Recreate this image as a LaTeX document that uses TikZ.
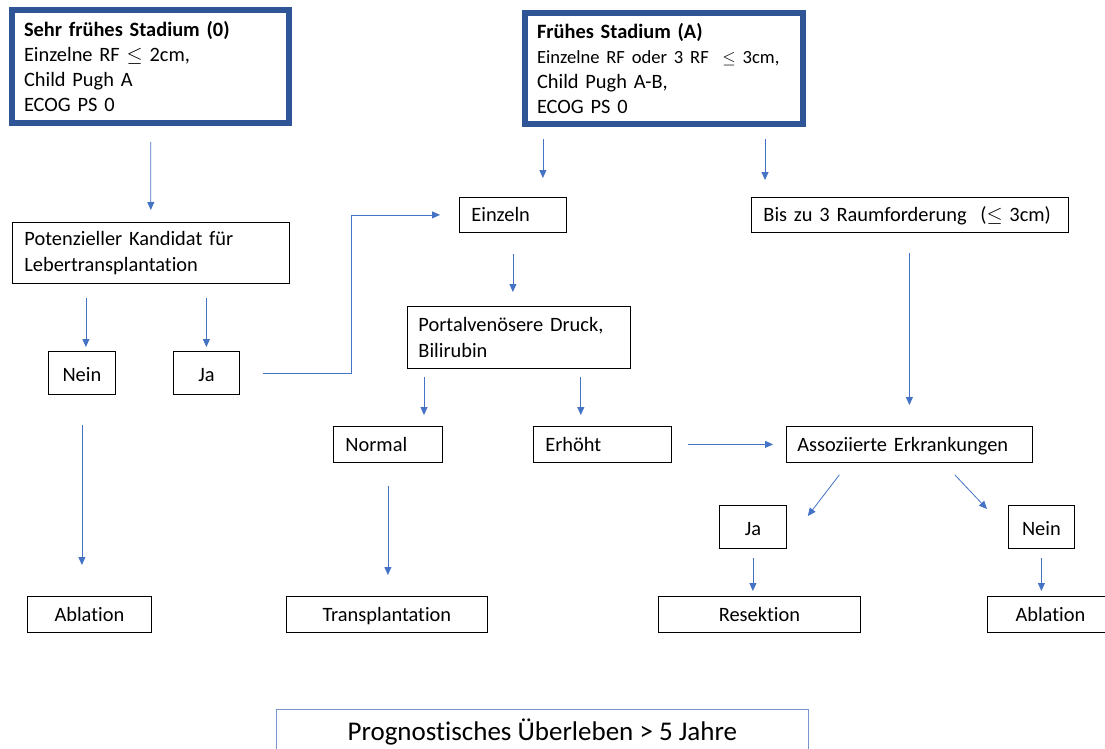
\documentclass[tikz,border=0pt]{standalone}
\usepackage{fontspec}
\setmainfont[Ligatures=NoCommon]{Carlito}
\usetikzlibrary{arrows.meta}
\definecolor{stageblue}{RGB}{47,85,151}
\definecolor{arrowblue}{RGB}{68,114,196}
\definecolor{survblue}{RGB}{120,150,205}

\begin{document}
\begin{tikzpicture}[
    x=1pt, y=-1pt,
    stage/.style={rectangle, draw=stageblue, line width=6pt, anchor=north west, align=left, inner xsep=12pt, font=\fontsize{20.4}{25.3}\selectfont},
    box/.style={rectangle, draw, line width=0.8pt, anchor=north west, align=center, inner sep=0pt, font=\fontsize{20.4}{25.8}\selectfont},
    lbox/.style={box, align=left, inner xsep=12pt},
    line/.style={text height=16pt, text depth=2pt},
    tall/.style={text height=19pt, text depth=1pt},
    arrow/.style={-{Triangle[length=8pt,width=7pt]}, draw=arrowblue, line width=0.8pt}
]
\useasboundingbox (0,0) rectangle (1105,749);

\node[stage, minimum width=277pt, minimum height=113pt, text width=253pt] (s0) at (9,7)
    {\textbf{Sehr frühes Stadium (0)}\\Einzelne RF $\leq$ 2cm,\\Child Pugh A\\ECOG PS 0};
\node[stage, minimum width=278pt, minimum height=111pt, text width=254pt] (sa) at (522,10)
    {\textbf{Frühes Stadium (A)}\\{\fontsize{18.6}{25}\selectfont Einzelne RF oder 3 RF\ \ $\leq$ 3cm,}\\Child Pugh A-B,\\ECOG PS 0};

\node[lbox, minimum width=277pt, minimum height=61pt, text width=253pt] (pot) at (12,222) {Potenzieller Kandidat für\\Lebertransplantation};
\node[box, tall, minimum width=67pt, minimum height=43pt] (nein) at (48,351) {Nein};
\node[box, tall, minimum width=66pt, minimum height=43pt] (ja) at (173,351) {Ja};
\node[box, line, minimum width=124pt, minimum height=36pt] (abl1) at (27,596) {Ablation};

\node[lbox, line, minimum width=107pt, minimum height=35pt, text width=83pt] (ein) at (459,197) {Einzeln};
\node[lbox, line, minimum width=317pt, minimum height=35pt, text width=293pt] (bis) at (751,197) {Bis zu 3 Raumforderung\ \ ($\leq$ 3cm)};
\node[lbox, minimum width=223pt, minimum height=62pt, text width=201pt, inner xsep=11pt] (por) at (407,306) {Portalvenösere Druck,\\Bilirubin};
\node[lbox, line, minimum width=109pt, minimum height=36pt, text width=85pt] (nor) at (333,426) {Normal};
\node[lbox, line, minimum width=138pt, minimum height=36pt, text width=114pt] (erh) at (533,426) {Erhöht};
\node[lbox, line, minimum width=246pt, minimum height=36pt, text width=224pt, inner xsep=11pt] (ass) at (786,426) {Assoziierte Erkrankungen};
\node[box, tall, minimum width=67pt, minimum height=43pt] (ja2) at (719,505) {Ja};
\node[box, tall, minimum width=66pt, minimum height=43pt] (nein2) at (1008,505) {Nein};
\node[box, line, minimum width=201pt, minimum height=36pt] (tra) at (286,596) {Transplantation};
\node[box, line, minimum width=202pt, minimum height=36pt] (res) at (658,596) {Resektion};
\node[box, line, minimum width=126pt, minimum height=36pt] (abl2) at (987,596) {Ablation};

\node[box, draw=survblue, line width=0.7pt, minimum width=532pt, minimum height=46pt, text height=20pt, text depth=4pt, font=\fontsize{27}{30}\selectfont] (surv) at (276,709) {Prognostisches Überleben > 5 Jahre};

\draw[arrow, shorten <=16pt, shorten >=12pt] (s0) -- (pot);
\draw[arrow, shorten <=14pt, shorten >=4pt] ([xshift=4pt]nein.north |- pot.south) -- ([xshift=4pt]nein.north);
\draw[arrow, shorten <=14pt, shorten >=4pt] (ja.north |- pot.south) -- (ja.north);
\draw[arrow, shorten <=30pt, shorten >=31pt] (nein.south) -- (nein.south |- abl1.north);
\draw[arrow, shorten <=23pt, shorten >=19pt] (ja.east) -| ([xshift=-108pt]ein.west) -- (ein.west);
\draw[arrow, shorten <=12pt, shorten >=19pt] ([xshift=30pt]ein.north |- sa.south) -- ([xshift=30pt]ein.north);
\draw[arrow, shorten <=12pt, shorten >=17pt] ([xshift=14pt]bis.north west |- sa.south) -- ([xshift=14pt]bis.north west);
\draw[arrow, shorten <=21pt, shorten >=14pt] (ein.south) -- (ein.south |- por.north);
\draw[arrow, shorten <=8pt, shorten >=11pt] ([xshift=17pt]por.south west) -- ([xshift=17pt]por.south west |- nor.north);
\draw[arrow, shorten <=8pt, shorten >=11pt] ([xshift=-50pt]por.south east) -- ([xshift=-50pt]por.south east |- erh.north);
\draw[arrow, shorten <=23pt, shorten >=21pt] (nor.south) -- (nor.south |- tra.north);
\draw[arrow, shorten <=16pt, shorten >=13pt] (erh) -- (ass);
\draw[arrow, shorten <=20pt, shorten >=21pt] (bis.south -| ass.north) -- (ass.north);
\draw[arrow] ([xshift=-70pt,yshift=-12pt]ass.south) -- ([xshift=21pt,yshift=-11pt]ja2.north east);
\draw[arrow] ([xshift=-78pt,yshift=-12pt]ass.south east) -- ([xshift=-21pt,yshift=-4pt]nein2.north west);
\draw[arrow, shorten <=9pt, shorten >=5pt] (ja2.south) -- (ja2.south |- res.north);
\draw[arrow, shorten <=9pt, shorten >=5pt] (nein2.south) -- (nein2.south |- abl2.north);
\end{tikzpicture}
\end{document}
